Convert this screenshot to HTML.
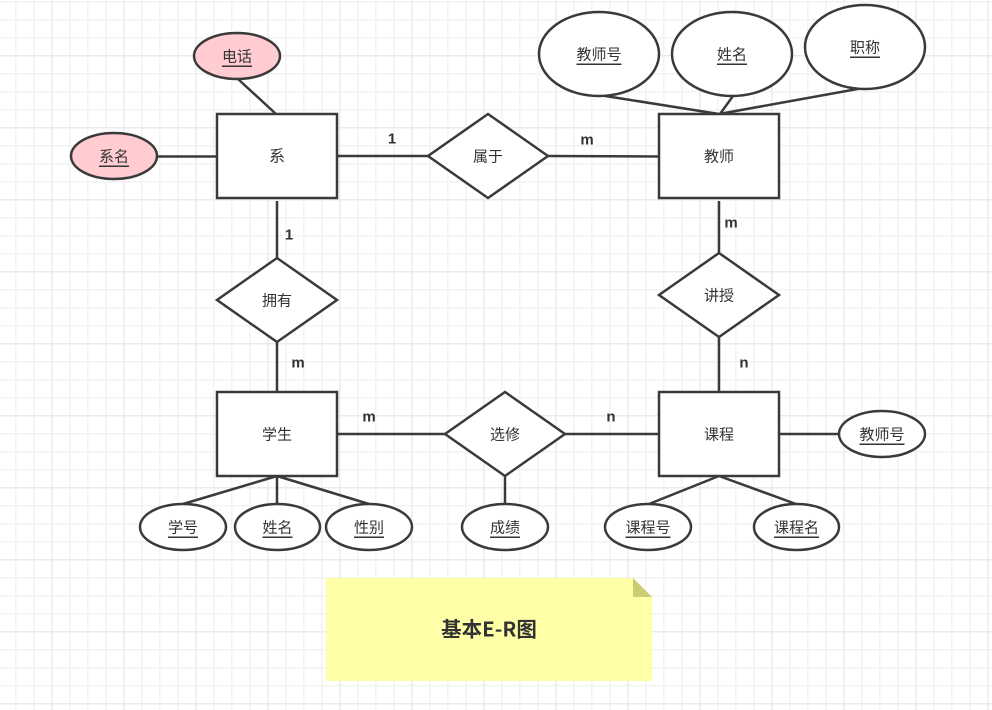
<!DOCTYPE html>
<html lang="zh">
<head>
<meta charset="utf-8">
<title>基本E-R图</title>
<style>
html,body{margin:0;padding:0;background:#fff}
svg{display:block}
text{font-family:"Liberation Sans","Noto Sans CJK SC",sans-serif;font-size:15px;fill:#333;text-anchor:middle;dominant-baseline:central}
.u{text-decoration:underline}
.b{font-weight:bold}
.s{fill:none;stroke:#3a3a3a;stroke-width:2.5}
.w{fill:#fff;stroke:#3a3a3a;stroke-width:2.5}
.p{fill:#ffccd1;stroke:#3a3a3a;stroke-width:2.5}
</style>
</head>
<body>
<svg width="992" height="710" viewBox="0 0 992 710" xmlns="http://www.w3.org/2000/svg">
<defs>
<pattern id="minor" width="18" height="18" patternUnits="userSpaceOnUse" x="-3" y="1">
<path d="M0.5 0V18M0 0.5H18" fill="none" stroke="#f3f3f3" stroke-width="2"/>
</pattern>
<pattern id="major" width="72" height="72" patternUnits="userSpaceOnUse" x="51" y="55">
<path d="M0.5 0V72M0 0.5H72" fill="none" stroke="#ebebeb" stroke-width="2"/>
</pattern>
</defs>
<rect width="992" height="710" fill="#fff"/>
<rect width="992" height="710" fill="url(#minor)"/>
<rect width="992" height="710" fill="url(#major)"/>

<path class="s" d="M238 79L276 114M158 156.500H217M338 156H428M548 156L659 156.500M277 201V258M277 342V392M719 201V253M719 337V392M337 434H445M565 434H659M779 434H839M599 95L719 114M733 96L720 114M863 88L719 114M277 476L183 504M277 476V504M277 476L369 504M505 476V504M719 476L649 504M719 476L796 504"/>

<ellipse class="p" cx="237" cy="56" rx="43" ry="23"/>
<ellipse class="p" cx="114" cy="156" rx="43" ry="23"/>
<ellipse class="w" cx="599" cy="54" rx="60" ry="42"/>
<ellipse class="w" cx="732" cy="54" rx="60" ry="42"/>
<ellipse class="w" cx="865" cy="47" rx="60" ry="42"/>
<ellipse class="w" cx="882" cy="434" rx="43" ry="23"/>
<ellipse class="w" cx="183" cy="527" rx="43" ry="23"/>
<ellipse class="w" cx="277.500" cy="527" rx="42.500" ry="23"/>
<ellipse class="w" cx="369" cy="527" rx="43" ry="23"/>
<ellipse class="w" cx="505" cy="527" rx="43" ry="23"/>
<ellipse class="w" cx="648" cy="527" rx="43" ry="23"/>
<ellipse class="w" cx="796.500" cy="527" rx="42.500" ry="23"/>

<rect class="w" x="217" y="114" width="120" height="84"/>
<rect class="w" x="659" y="114" width="120" height="84"/>
<rect class="w" x="217" y="392" width="120" height="84"/>
<rect class="w" x="659" y="392" width="120" height="84"/>

<polygon class="w" points="488,114 548,156 488,198 428,156"/>
<polygon class="w" points="277,258 337,300 277,342 217,300"/>
<polygon class="w" points="719,253 779,295 719,337 659,295"/>
<polygon class="w" points="505,392 565,434 505,476 445,434"/>

<polygon points="326,578 633,578 652,597 652,681 326,681" fill="#ffffa8"/>
<polygon points="633,578 652,597 633,597" fill="#cccc75"/>

<text class="u" x="237" y="57">电话</text>
<text class="u" x="114" y="157">系名</text>
<text x="277" y="157" style="font-size:16px">系</text>
<text x="488" y="157">属于</text>
<text x="719" y="157">教师</text>
<text class="u" x="599" y="55">教师号</text>
<text class="u" x="732" y="55">姓名</text>
<text class="u" x="865" y="48">职称</text>
<text x="277" y="301">拥有</text>
<text x="719" y="296">讲授</text>
<text x="277" y="435">学生</text>
<text x="505" y="435">选修</text>
<text x="719" y="435">课程</text>
<text class="u" x="882" y="435">教师号</text>
<text class="u" x="183" y="528">学号</text>
<text class="u" x="277.500" y="528">姓名</text>
<text class="u" x="369" y="528">性别</text>
<text class="u" x="505" y="528">成绩</text>
<text class="u" x="648" y="528">课程号</text>
<text class="u" x="796.500" y="528">课程名</text>

<text class="b" x="392" y="139">1</text>
<text class="b" x="587" y="140">m</text>
<text class="b" x="289" y="235">1</text>
<text class="b" x="298" y="363">m</text>
<text class="b" x="731" y="223">m</text>
<text class="b" x="744" y="363">n</text>
<text class="b" x="369" y="417">m</text>
<text class="b" x="611" y="417">n</text>
<text class="b" x="489" y="627.500" style="font-size:20.500px;font-family:'Noto Sans CJK SC',sans-serif">基本E-R图</text>
</svg>
</body>
</html>
